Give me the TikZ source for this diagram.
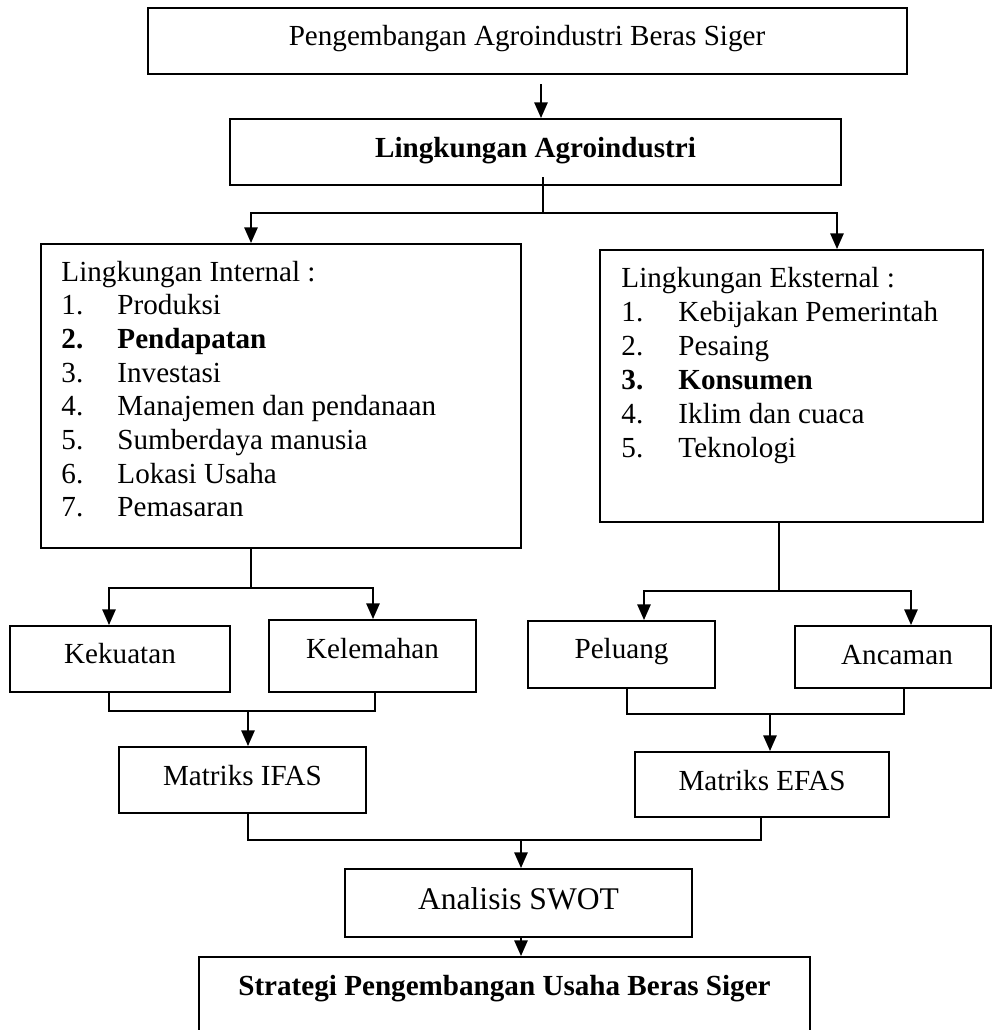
\documentclass[tikz,border=0pt]{standalone}
\usepackage{fontspec}
\setmainfont{Liberation Serif}
\usetikzlibrary{arrows.meta}

\tikzset{
  box/.style={draw, line width=0.8pt, inner sep=0pt},
  sz/.style 2 args={minimum width=#1*0.412pt, minimum height=#2*0.412pt},
  lbl/.style={anchor=base, inner sep=0pt, font=\fontsize{12pt}{14pt}\selectfont},
  lst/.style={anchor=base west, inner sep=0pt, font=\fontsize{12pt}{14pt}\selectfont},
  link/.style={line width=0.8pt},
  arr/.style={line width=0.8pt, -{Triangle[width=5.5pt,length=6.5pt]}},
}

\begin{document}
\begin{tikzpicture}[x={(0.412pt,0)}, y={(0,-0.412pt)}]
\useasboundingbox (0,0) rectangle (993,1030);
\clip (0,0) rectangle (993,1030);

% Boxes
\node[box, sz={759}{66}] (top) at (527.5,41) {};
\node[box, sz={611}{66}] (agro) at (535.5,152) {};
\node[box, sz={480}{304}] (int) at (281,396) {};
\node[box, sz={383}{272}] (ext) at (791.5,386) {};
\node[box, sz={220}{66}] (kek) at (120,659) {};
\node[box, sz={207}{72}] (kel) at (372.5,656) {};
\node[box, sz={187}{67}] (pel) at (621.5,654.5) {};
\node[box, sz={196}{62}] (anc) at (893,657) {};
\node[box, sz={247}{66}] (ifas) at (242.5,780) {};
\node[box, sz={254}{65}] (efas) at (762,784.5) {};
\node[box, sz={347}{68}] (swot) at (518.5,903) {};
\node[box, sz={611}{93}] (strat) at (504.5,1003.5) {};

% Box texts
\node[lbl] (t-top) at (527,45) {Pengembangan Agroindustri Beras Siger};
\node[lbl] (t-agro) at (535.5,157) {\textbf{Lingkungan Agroindustri}};
\node[lbl] (t-kek) at (120,663) {Kekuatan};
\node[lbl] (t-kel) at (372.5,658) {Kelemahan};
\node[lbl] (t-pel) at (621.5,658) {Peluang};
\node[lbl] (t-anc) at (897,664) {Ancaman};
\node[lbl] (t-ifas) at (242.5,785) {Matriks IFAS};
\node[lbl] (t-efas) at (762,790) {Matriks EFAS};
\node[lbl, font=\fontsize{13pt}{15pt}\selectfont] (t-swot) at (518.5,909) {Analisis SWOT};
\node[lbl] (t-strat) at (504.5,995) {\textbf{Strategi Pengembangan Usaha Beras Siger}};

% Internal list
\node[lst] (int-h) at (61,281) {Lingkungan Internal :};
\foreach \n/\t [count=\i] in {1./Produksi, \textbf{2.}/\textbf{Pendapatan}, 3./Investasi,
    4./Manajemen dan pendanaan, 5./Sumberdaya manusia, 6./Lokasi Usaha, 7./Pemasaran} {
  \node[lst] (int-n\i) at (61,281+33.7*\i) {\n};
  \node[lst] (int-t\i) at (117,281+33.7*\i) {\t};
}

% External list
\node[lst] (ext-h) at (621,287.5) {Lingkungan Eksternal :};
\foreach \n/\t [count=\i] in {1./Kebijakan Pemerintah, 2./Pesaing, \textbf{3.}/\textbf{Konsumen},
    4./Iklim dan cuaca, 5./Teknologi} {
  \node[lst] (ext-n\i) at (621,287.5+34*\i) {\n};
  \node[lst] (ext-t\i) at (678,287.5+34*\i) {\t};
}

% Top box to Lingkungan Agroindustri
\coordinate (a1) at (541,84);
\draw[arr] (a1) -- (a1 |- agro.north);

% Split to internal and external
\coordinate (a2) at (543,177);
\coordinate (j1) at (543,213);
\draw[link] (a2) -- (j1);
\draw[arr] (j1) -| (251,0 |- int.north);
\draw[arr] (j1) -| (837,0 |- ext.north);

% Internal to Kekuatan / Kelemahan
\coordinate (j2) at (251,588);
\draw[link] (int.south -| j2) -- (j2);
\draw[arr] (j2) -| (109,0 |- kek.north);
\draw[arr] (j2) -| (373,0 |- kel.north);

% Kekuatan + Kelemahan to IFAS
\coordinate (j3) at (248,711);
\draw[link] (109,0 |- kek.south) |- (j3) -| (375,0 |- kel.south);
\draw[arr] (j3) -- (j3 |- ifas.north);

% External to Peluang / Ancaman
\coordinate (j4) at (779,591);
\draw[link] (ext.south -| j4) -- (j4);
\draw[arr] (j4) -| (644,0 |- pel.north);
\draw[arr] (j4) -| (911,0 |- anc.north);

% Peluang + Ancaman to EFAS
\coordinate (j5) at (770,714);
\draw[link] (627,0 |- pel.south) |- (j5) -| (904,0 |- anc.south);
\draw[arr] (j5) -- (j5 |- efas.north);

% IFAS + EFAS to SWOT
\coordinate (j6) at (521,840);
\draw[link] (ifas.south -| 248,0) |- (j6) -| (efas.south -| 761,0);
\draw[arr] (j6) -- (j6 |- swot.north);

% SWOT to strategi
\draw[arr] (swot.south -| j6) -- (j6 |- strat.north);

\end{tikzpicture}
\end{document}
